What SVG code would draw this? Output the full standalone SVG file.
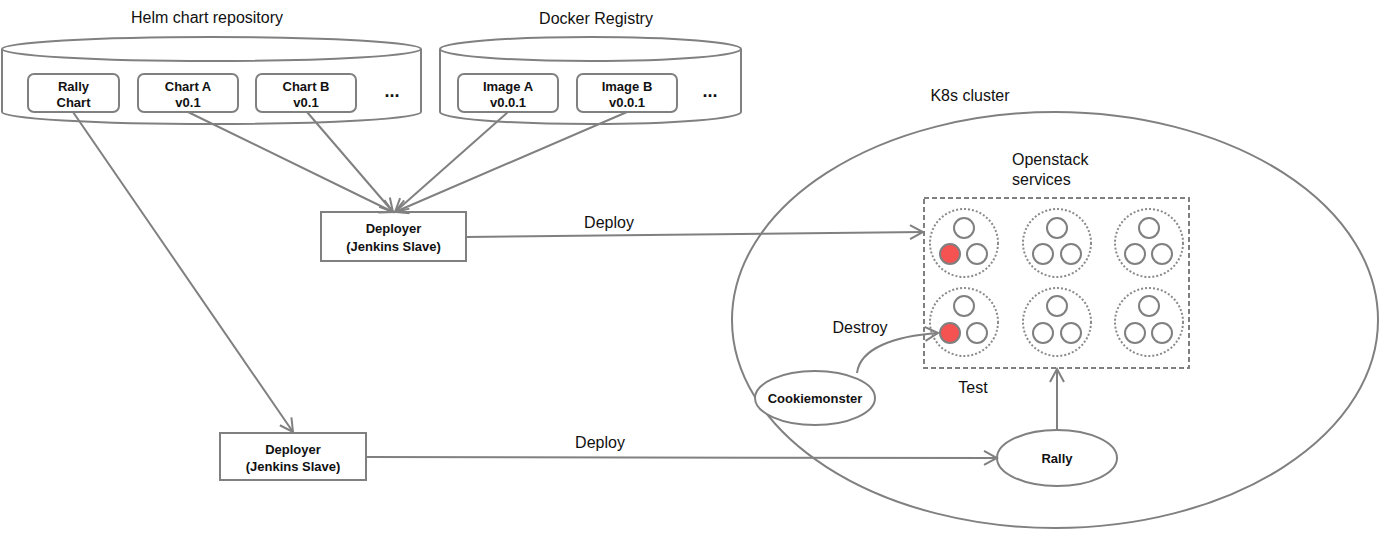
<svg xmlns="http://www.w3.org/2000/svg" width="1379" height="540" viewBox="0 0 1379 540">
<style>
.ln{fill:none;stroke:#808080;stroke-width:2}
.box{fill:#fff;stroke:#808080;stroke-width:2}
.t{font-family:"Liberation Sans",Arial,sans-serif;font-size:16px;fill:#111}
.b{font-family:"Liberation Sans",Arial,sans-serif;font-size:13px;font-weight:bold;fill:#111;text-anchor:middle}
.dot{fill:none;stroke:#8a8a8a;stroke-width:2;stroke-dasharray:2 2}
.c{fill:#fff;stroke:#808080;stroke-width:2}
.r{fill:#f55252;stroke:#808080;stroke-width:2}
</style>
<defs>
<marker id="ah" markerUnits="userSpaceOnUse" markerWidth="16" markerHeight="16" viewBox="0 0 16 16" refX="14" refY="8" orient="auto">
<path d="M1,1 L14,8 L1,15" fill="none" stroke="#808080" stroke-width="2"/>
</marker>
</defs>

<g id="helm-repo">
<text class="t" x="207" y="23" text-anchor="middle">Helm chart repository</text>
<path class="box" d="M2,49 L2,112 A209.5,12 0 0 0 421,112 L421,49"/>
<ellipse class="box" cx="211.5" cy="49" rx="209.5" ry="12"/>
</g>
<g id="rally-chart">
<rect class="box" x="28" y="74" width="91" height="38" rx="6"/>
<text class="b" x="73.5" y="91">Rally</text>
<text class="b" x="73.5" y="107">Chart</text>
</g>
<g id="chart-a">
<rect class="box" x="138" y="74" width="100" height="38" rx="6"/>
<text class="b" x="188" y="91">Chart A</text>
<text class="b" x="188" y="107">v0.1</text>
</g>
<g id="chart-b">
<rect class="box" x="256" y="74" width="100" height="38" rx="6"/>
<text class="b" x="306" y="91">Chart B</text>
<text class="b" x="306" y="107">v0.1</text>
</g>
<text class="b" x="392" y="97" style="font-size:18px">...</text>

<g id="docker-registry">
<text class="t" x="596" y="24" text-anchor="middle">Docker Registry</text>
<path class="box" d="M440,49 L440,112 A150.5,12 0 0 0 741,112 L741,49"/>
<ellipse class="box" cx="590.5" cy="49" rx="150.5" ry="12"/>
</g>
<g id="image-a">
<rect class="box" x="458" y="74" width="100" height="38" rx="6"/>
<text class="b" x="508" y="91">Image A</text>
<text class="b" x="508" y="107">v0.0.1</text>
</g>
<g id="image-b">
<rect class="box" x="577" y="74" width="100" height="38" rx="6"/>
<text class="b" x="627" y="91">Image B</text>
<text class="b" x="627" y="107">v0.0.1</text>
</g>
<text class="b" x="710" y="97" style="font-size:18px">...</text>

<g id="deployer-1">
<rect class="box" x="321" y="212" width="145" height="49"/>
<text class="b" x="393.5" y="233">Deployer</text>
<text class="b" x="393.5" y="251">(Jenkins Slave)</text>
</g>
<g id="deployer-2">
<rect class="box" x="220" y="433" width="146" height="47"/>
<text class="b" x="293" y="454">Deployer</text>
<text class="b" x="293" y="471">(Jenkins Slave)</text>
</g>

<g id="k8s-cluster">
<ellipse class="ln" cx="1055" cy="320" rx="323" ry="208"/>
<text class="t" x="970" y="101" text-anchor="middle">K8s cluster</text>
</g>

<g id="openstack-services">
<text class="t" x="1012" y="165">Openstack</text>
<text class="t" x="1012" y="185">services</text>
<rect x="924" y="198" width="265" height="170" fill="none" stroke="#808080" stroke-width="2" stroke-dasharray="5 3"/>
<g id="pod-1"><circle class="dot" cx="964" cy="243" r="34"/><circle class="c" cx="964" cy="228" r="10"/><circle class="r" cx="950" cy="254" r="10"/><circle class="c" cx="977" cy="254" r="10"/></g>
<g id="pod-2"><circle class="dot" cx="1057" cy="243" r="34"/><circle class="c" cx="1057" cy="228" r="10"/><circle class="c" cx="1043" cy="254" r="10"/><circle class="c" cx="1071" cy="254" r="10"/></g>
<g id="pod-3"><circle class="dot" cx="1149" cy="243" r="34"/><circle class="c" cx="1149" cy="228" r="10"/><circle class="c" cx="1135" cy="254" r="10"/><circle class="c" cx="1162" cy="254" r="10"/></g>
<g id="pod-4"><circle class="dot" cx="964" cy="322" r="34"/><circle class="c" cx="964" cy="306" r="10"/><circle class="r" cx="950" cy="333" r="10"/><circle class="c" cx="977" cy="333" r="10"/></g>
<g id="pod-5"><circle class="dot" cx="1057" cy="322" r="34"/><circle class="c" cx="1057" cy="306" r="10"/><circle class="c" cx="1043" cy="333" r="10"/><circle class="c" cx="1071" cy="333" r="10"/></g>
<g id="pod-6"><circle class="dot" cx="1149" cy="322" r="34"/><circle class="c" cx="1149" cy="306" r="10"/><circle class="c" cx="1135" cy="333" r="10"/><circle class="c" cx="1162" cy="333" r="10"/></g>
</g>

<g id="cookiemonster">
<ellipse class="box" cx="815" cy="398" rx="60" ry="27"/>
<text class="b" x="815" y="403">Cookiemonster</text>
</g>
<g id="rally">
<ellipse class="box" cx="1057" cy="458" rx="60" ry="28"/>
<text class="b" x="1057" y="463">Rally</text>
</g>

<g id="connectors">
<line class="ln" x1="188" y1="112" x2="393" y2="212" marker-end="url(#ah)"/>
<line class="ln" x1="307" y1="112" x2="393" y2="212" marker-end="url(#ah)"/>
<line class="ln" x1="508" y1="112" x2="395" y2="212" marker-end="url(#ah)"/>
<line class="ln" x1="627" y1="112" x2="395" y2="212" marker-end="url(#ah)"/>
<line class="ln" x1="73" y1="112" x2="293" y2="432" marker-end="url(#ah)"/>
<line class="ln" x1="466" y1="237" x2="923" y2="232" marker-end="url(#ah)"/>
<text class="t" x="609" y="228" text-anchor="middle">Deploy</text>
<line class="ln" x1="366" y1="457" x2="997" y2="458" marker-end="url(#ah)"/>
<text class="t" x="600" y="448" text-anchor="middle">Deploy</text>
<path class="ln" d="M857,373 C860,348 895,336 938,333" marker-end="url(#ah)"/>
<text class="t" x="860" y="333" text-anchor="middle">Destroy</text>
<line class="ln" x1="1057" y1="430" x2="1057" y2="369" marker-end="url(#ah)"/>
<text class="t" x="973" y="393" text-anchor="middle">Test</text>
</g>
</svg>
